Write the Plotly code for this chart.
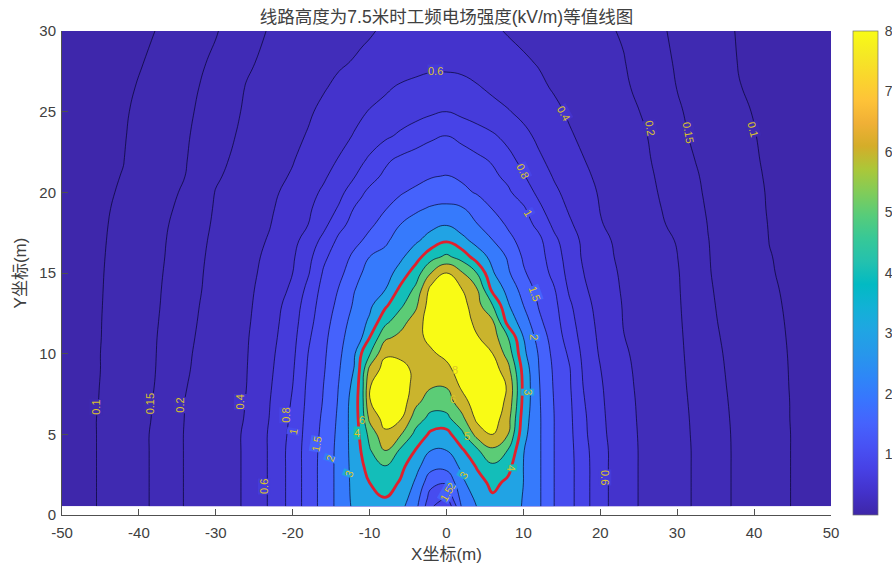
import numpy as np
import plotly.graph_objects as go

TITLE = "线路高度为7.5米时工频电场强度(kV/m)等值线图"
X_LABEL = "X坐标(m)"
Y_LABEL = "Y坐标(m)"
X_TICKS = [-50, -40, -30, -20, -10, 0, 10, 20, 30, 40, 50]
X_TICK_TEXT = ["-50", "-40", "-30", "-20", "-10", "0", "10", "20", "30", "40", "50"]
Y_TICKS = [0, 5, 10, 15, 20, 25, 30]
CBAR_TICKS = [1, 2, 3, 4, 5, 6, 7, 8]
LEVELS = [0.1, 0.15, 0.2, 0.4, 0.6, 0.8, 1, 1.5, 2, 3, 4, 5, 6, 8]

Y = [0.55, 1, 2, 3, 4, 5, 6, 7, 8, 9, 10, 11, 12, 13, 14, 15, 16, 17, 18, 19, 20, 21, 22, 23.5, 25, 26.5, 28, 30]
X = [-50, -45, -42, -38, -34, -30, -26, -23, -20, -18, -16, -14, -12, -11, -10, -8, -6, -4, -2, 0,
     2, 4, 6, 8, 10, 12, 14, 16, 18, 20, 23, 26, 30, 34, 38, 42, 45, 50]

# Field strength (kV/m), one list per X column, bottom to top
xm50 = [.065,.065,.065,.065,.065,.065,.065,.065,.065,.065,.065,.065,.064,.064,.064,.063,.063,.063,.063,.062,.062,.062,.061,.061,.06,.06,.06,.06]
xm45 = [.102,.102,.102,.102,.102,.102,.102,.101,.1005,.1,.1,.0985,.098,.097,.096,.095,.094,.093,.092,.091,.09,.089,.088,.085,.082,.078,.075,.07]
xm42 = [.125,.125,.125,.125,.125,.125,.124,.123,.122,.121,.12,.119,.117,.116,.115,.114,.112,.11,.108,.1057,.103,.101,.099,.096,.093,.088,.082,.078]
xm38 = [.155,.155,.155,.155,.155,.155,.153,.152,.15,.148,.147,.146,.144,.142,.141,.139,.137,.136,.134,.131,.128,.126,.123,.119,.115,.11,.105,.099]
xm34 = [.21,.21,.21,.21,.21,.21,.205,.202,.198,.195,.193,.19,.187,.184,.18,.178,.175,.172,.168,.162,.156,.15,.147,.144,.14,.136,.131,.1225]
xm30 = [.31,.31,.31,.31,.31,.31,.305,.3,.299,.295,.29,.285,.279,.273,.266,.26,.253,.242,.228,.218,.207,.195,.189,.181,.174,.167,.159,.147]
xm26 = [.42,.42,.42,.42,.42,.42,.41,.405,.4,.395,.39,.385,.375,.367,.36,.35,.34,.33,.322,.309,.296,.278,.264,.244,.225,.209,.194,.182]
xm23 = [.62,.62,.62,.62,.62,.62,.605,.595,.58,.565,.55,.53,.514,.497,.477,.457,.44,.415,.393,.377,.362,.343,.328,.305,.283,.262,.243,.213]
xm20 = [.88,.88,.88,.88,.88,.86,.84,.82,.8,.78,.76,.74,.717,.692,.636,.6,.577,.55,.515,.485,.454,.416,.391,.366,.342,.316,.29,.253]
xm18 = [1.22,1.22,1.22,1.22,1.22,1.2,1.17,1.13,1.1,1.05,1.0,.97,.933,.9,.853,.78,.736,.675,.6,.57,.538,.494,.459,.41,.381,.352,.32,.28]
xm16 = [1.68,1.68,1.68,1.68,1.66,1.62,1.58,1.53,1.5,1.45,1.41,1.36,1.29,1.23,1.16,1.05,.96,.859,.743,.684,.629,.573,.533,.477,.431,.388,.353,.307]
xm14 = [2.3,2.3,2.3,2.3,2.3,2.25,2.18,2.1,2.03,1.96,1.9,1.84,1.74,1.62,1.52,1.37,1.25,1.105,.94,.82,.743,.674,.611,.543,.492,.431,.384,.333]
xm12 = [3.2,3.25,3.3,3.35,3.4,3.45,3.5,3.5,3.3,3.05,2.85,2.57,2.38,2.13,1.98,1.77,1.6,1.37,1.17,1.02,.9,.789,.719,.611,.554,.48,.41,.36]
xm11 = [3.3,3.4,3.6,3.85,4.1,4.3,4.5,4.6,4.6,4.45,4.1,3,2.75,2.4,2.2,2,1.78,1.5,1.28,1.13,.98,.862,.77,.649,.58,.504,.43,.37]
xm10 = [3.5,3.7,4,4.4,4.9,5.3,6.5,7.9,7.9,6.6,4.9,4,3.15,2.8,2.51,2.24,2,1.65,1.41,1.24,1.09,.938,.833,.687,.61,.528,.44,.387]
xm8 = [3.7,3.95,4.5,4.95,6,7.6,8.6,8.9,8.9,8.6,7.7,5.8,4.7,3.8,2.95,2.55,2.2,1.94,1.69,1.47,1.27,1.08,.967,.762,.65,.576,.48,.42]
xm6 = [3.3,3.5,3.9,4.3,4.85,6.2,8.2,8.9,9,8.6,7.5,6.5,5.6,4.8,4.2,3.4,2.8,2.3,2,1.69,1.455,1.2,1.1,.833,.69,.62,.51,.44]
xm4 = [2.3,2.45,2.85,3.3,3.95,4.7,5.5,6.5,7.2,7.5,7.6,7.4,6.9,5.8,5.2,4.5,3.6,2.86,2.38,1.92,1.6,1.34,1.22,.9,.73,.645,.54,.455]
xm2 = [1.1,1.25,1.65,2.3,3,3.8,4.7,5.45,6.2,7,7.7,8.4,8.9,8.9,8.5,6,4.65,3.4,2.75,2.1,1.72,1.47,1.3,.967,.77,.665,.56,.465]
x00 = [.8,1,1.55,2.3,3,3.65,4.75,5.5,6.15,7.4,8.4,8.9,9,9,8.8,8,5.2,3.9,2.95,2.2,1.75,1.52,1.3,1.0,.8,.67,.56,.47]
xp2 = [2.15,2.35,2.8,3.2,3.85,4.75,5.75,7.1,8.3,8.8,9,8.9,8.8,8.6,8,6.2,4.6,3.3,2.55,2.08,1.62,1.42,1.22,.952,.753,.655,.55,.46]
xp4 = [3.05,3.2,3.6,4.1,4.85,6.8,8.4,8.9,9,8.9,8.6,8.1,7.4,6.7,6,4.95,3.5,2.68,2.03,1.79,1.45,1.26,1.1,.889,.706,.614,.52,.44]
xp6 = [3.65,3.85,4.25,4.8,5.8,8,8.8,9,9,8.8,8,7,6.2,5,3.7,3.1,2.72,2.03,1.72,1.48,1.26,1.1,.98,.825,.659,.566,.49,.42]
xp8 = [3.35,3.5,3.8,4.3,4.95,6,6.8,7.5,7.8,6.7,5.6,5,3.6,3.1,2.7,2.14,1.94,1.63,1.44,1.275,1.08,.952,.86,.743,.612,.52,.45,.39]
xp10 = [2.95,2.95,3,3,3.05,3.3,3.5,3.7,3.75,3.65,3.25,3,2.53,2,1.8,1.56,1.44,1.35,1.2,1.07,.896,.814,.743,.648,.554,.474,.42,.366]
xp12 = [2.15,2.15,2.15,2.15,2.15,2.15,2.15,2.12,2.08,2.02,1.96,1.81,1.6,1.467,1.34,1.24,1.17,1.12,.95,.84,.758,.694,.629,.563,.492,.428,.392,.339]
xp14 = [1.5,1.5,1.5,1.5,1.5,1.5,1.5,1.48,1.45,1.42,1.35,1.27,1.2,1.133,1.03,.95,.91,.85,.755,.694,.636,.584,.545,.489,.431,.386,.359,.313]
xp16 = [1.15,1.15,1.15,1.15,1.14,1.12,1.1,1.08,1.05,1.03,.97,.914,.87,.829,.77,.73,.7,.68,.626,.577,.54,.504,.473,.415,.381,.35,.326,.287]
xp18 = [.86,.86,.86,.86,.85,.83,.82,.8,.77,.75,.73,.704,.68,.656,.62,.59,.565,.556,.516,.484,.455,.424,.4,.367,.343,.315,.293,.261]
xp20 = [.67,.67,.67,.67,.67,.65,.64,.63,.62,.605,.58,.564,.55,.533,.51,.49,.46,.445,.41,.395,.384,.369,.356,.327,.305,.28,.26,.234]
xp23 = [.47,.47,.47,.47,.47,.47,.465,.46,.45,.44,.425,.405,.395,.39,.38,.37,.36,.35,.336,.326,.315,.301,.289,.265,.248,.226,.21,.196]
xp26 = [.36,.36,.36,.36,.36,.355,.35,.345,.34,.335,.33,.33,.325,.319,.31,.3,.295,.28,.268,.257,.246,.234,.222,.204,.195,.186,.178,.17]
xp30 = [.266,.266,.266,.266,.266,.265,.262,.258,.25,.246,.241,.236,.23,.224,.219,.214,.203,.198,.19,.185,.18,.176,.169,.16,.155,.149,.145,.14]
xp34 = [.18,.18,.18,.18,.18,.178,.176,.173,.171,.168,.165,.162,.159,.157,.155,.153,.152,.151,.149,.146,.143,.14,.136,.132,.129,.125,.121,.117]
xp38 = [.14,.14,.14,.14,.14,.14,.139,.138,.136,.135,.134,.132,.13,.128,.126,.124,.123,.122,.122,.119,.117,.114,.111,.108,.105,.101,.098,.095]
xp42 = [.116,.116,.116,.116,.116,.116,.115,.114,.113,.113,.112,.11,.108,.106,.104,.102,.101,.099,.097,.095,.094,.092,.09,.088,.085,.083,.08,.075]
xp45 = [.097,.097,.097,.097,.097,.097,.096,.096,.095,.094,.093,.092,.091,.09,.089,.088,.087,.086,.085,.084,.083,.082,.08,.078,.077,.075,.073,.07]
xp50 = [.08,.08,.08,.08,.08,.08,.08,.079,.079,.078,.078,.077,.077,.076,.076,.075,.075,.074,.074,.073,.072,.072,.071,.07,.069,.068,.067,.065]

COLUMNS = [xm50, xm45, xm42, xm38, xm34, xm30, xm26, xm23, xm20, xm18, xm16, xm14, xm12, xm11, xm10, xm8, xm6, xm4, xm2,
           x00, xp2, xp4, xp6, xp8, xp10, xp12, xp14, xp16, xp18, xp20, xp23, xp26, xp30, xp34, xp38, xp42, xp45, xp50]

# Contour labels: text, x, y, rotation
LABEL_TEXT = ["0.1", "0.15", "0.2", "0.4", "0.6", "0.8", "1", "1.5", "2", "3", "4",
              "0.6", "0.4", "0.2", "0.15", "0.1", "0.8", "1", "1.5", "2", "3", "0.6", "4",
              "3", "2", "1.5", "6", "5", "8", "6"]
LABEL_X = [-45.6, -38.6, -34.6, -26.8, -23.7, -20.9, -19.9, -16.9, -15.2, -12.7, -11.6,
           -1.4, 15.2, 26.5, 31.5, 39.8, 9.9, 10.6, 11.5, 11.4, 10.5, 20.6, 8.3,
           2.2, 0.6, 0.0, -11.0, 2.7, 1.1, 0.8]
LABEL_Y = [6.7, 6.9, 6.8, 7.0, 1.75, 6.2, 5.2, 4.4, 3.5, 2.55, 5.1,
           27.5, 24.9, 24.0, 23.7, 23.9, 21.3, 18.7, 13.7, 11.0, 7.6, 2.3, 2.9,
           2.5, 1.8, 1.3, 5.9, 4.9, 9.0, 7.2]
LABEL_ROT = [-90, -90, -90, -90, -90, -90, -80, -80, -70, -70, 0,
             0, 60, 80, 80, 75, 65, 60, 70, 90, 90, 90, 90,
             -60, -60, -60, 0, 0, 0, 0]

PARULA = [(0.2422,0.1504,0.6603),(0.2647,0.1978,0.7952),(0.2783,0.2559,0.8991),(0.2810,0.3228,0.9579),
          (0.2699,0.3892,0.9906),(0.2206,0.4603,0.9973),(0.1786,0.5289,0.9682),(0.1540,0.5902,0.9218),
          (0.1248,0.6459,0.8883),(0.0689,0.6948,0.8394),(0.0067,0.7312,0.7660),(0.1408,0.7584,0.6842),
          (0.2161,0.7843,0.5923),(0.3406,0.8008,0.4789),(0.5044,0.7993,0.3480),(0.6720,0.7793,0.2227),
          (0.8300,0.6800,0.1600),(0.9393,0.6900,0.2100),(0.9970,0.7659,0.2199),(0.9786,0.8386,0.1766),
          (0.9597,0.9135,0.1423),(0.9769,0.9839,0.0805)]


def parula(t):
    p = np.array(PARULA)
    u = np.linspace(0, 1, len(p))
    c = [np.interp(t, u, p[:, k]) for k in range(3)]
    return "rgb(%d,%d,%d)" % tuple(int(round(255 * v)) for v in c)


z = np.array(COLUMNS).T
idx = np.interp(z, [0] + LEVELS + [9.5], np.arange(len(LEVELS) + 2))

# stepped colour scale: one flat colour per band between levels
band_vals = [0.03] + LEVELS
scale = []
for i, v in enumerate(band_vals):
    col = parula(min(v / 8, 1))
    scale += [[i / len(band_vals), col], [(i + 1) / len(band_vals), col]]

fig = go.Figure()
fig.add_trace(go.Contour(
    x=X, y=Y, z=idx, zmin=0, zmax=len(band_vals), autocontour=False,
    contours=dict(start=1, end=len(LEVELS), size=1, coloring="fill", showlines=True),
    colorscale=scale, showscale=False, hoverinfo="skip",
    line=dict(color="rgba(5,5,40,0.85)", width=0.8, smoothing=1.3),
))
red_level = LEVELS.index(4) + 1
fig.add_trace(go.Contour(
    x=X, y=Y, z=idx, autocontour=False,
    contours=dict(start=red_level, end=red_level, size=1, coloring="none"),
    showscale=False, hoverinfo="skip",
    line=dict(color="#e0202c", width=2.8, smoothing=1.3),
))
# colour bar for the 0-8 kV/m scale
fig.add_trace(go.Scatter(
    x=[None], y=[None], mode="markers", showlegend=False, hoverinfo="skip",
    marker=dict(color=[0], cmin=0, cmax=8, showscale=True,
                colorscale=[[i / (len(PARULA) - 1), parula(i / (len(PARULA) - 1))] for i in range(len(PARULA))],
                colorbar=dict(x=1.0286, xanchor="left", y=0.5, yanchor="middle", len=1.0, lenmode="fraction",
                              thickness=25, thicknessmode="pixels", xpad=0, ypad=0,
                              tickvals=CBAR_TICKS, ticks="outside", ticklen=4, tickcolor="rgba(0,0,0,0)",
                              outlinecolor="#707070", outlinewidth=0.7,
                              tickfont=dict(family="Liberation Sans", size=14, color="#404040"))),
))

for t, lx, ly, rot in zip(LABEL_TEXT, LABEL_X, LABEL_Y, LABEL_ROT):
    v = float(t)
    fig.add_annotation(
        x=lx, y=ly, text=t, showarrow=False, textangle=rot,
        font=dict(family="Liberation Sans", size=11, color="#dcc42a"),
        bgcolor=parula(min(v / 8, 1)) if v < 5 else "rgba(0,0,0,0)", borderpad=0,
    )

axis_common = dict(showline=True, linecolor="#505050", linewidth=1, mirror=False, showgrid=False, zeroline=False,
                   ticks="inside", ticklen=6, tickcolor="#505050", automargin=False,
                   tickfont=dict(family="Liberation Sans", size=15, color="#404040"))
label_font = dict(family="Liberation Sans, Noto Sans CJK SC", size=17, color="#404040")
fig.update_xaxes(range=[-50, 50], tickvals=X_TICKS, ticktext=X_TICK_TEXT, ticklabelstandoff=4,
                 title=dict(text=X_LABEL, font=label_font, standoff=8), **axis_common)
fig.update_yaxes(range=[0, 30], tickvals=Y_TICKS, ticklabelstandoff=2,
                 title=dict(text=Y_LABEL, font=label_font, standoff=8), **axis_common)
fig.update_layout(
    width=892, height=570, autosize=False, paper_bgcolor="white", plot_bgcolor="white",
    margin=dict(l=62, r=61, t=31, b=55, autoexpand=False), showlegend=False,
    title=dict(text=TITLE, x=0.5, xref="paper", xanchor="center", y=0.97, yref="container", yanchor="middle",
               font=dict(family="Liberation Sans, Noto Sans CJK SC", size=17.5, color="#404040")),
)
# remove the page's default 8 px body margin so the 892 px figure fits the window
fig.write_html("out.html", config={"displayModeBar": False}, post_script="document.body.style.margin='0';")
